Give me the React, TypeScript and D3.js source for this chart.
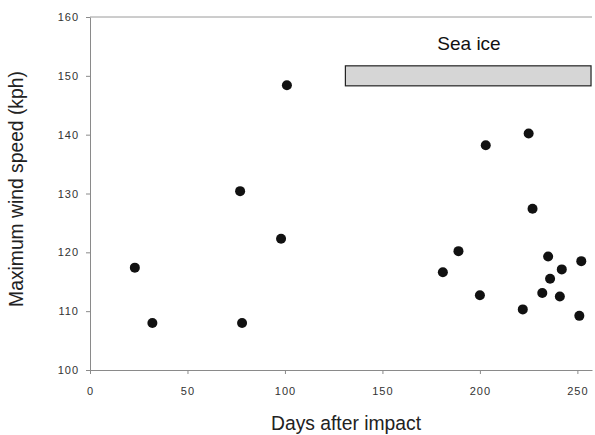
import React from 'react';
import * as d3 from 'd3';

// days after impact / max wind speed (kph)
const days = [23, 32, 77, 101, 78, 98, 203, 225, 227, 181, 189, 200, 222, 232, 235, 236, 242, 241, 252, 251];
const windSpeed = [117.4, 108.0, 130.4, 148.4, 108.0, 122.3, 138.2, 140.2, 127.4, 116.6, 120.2, 112.7, 110.3, 113.1, 119.3, 115.5, 117.1, 112.5, 118.5, 109.2];

const xTicks = [0, 50, 100, 150, 200, 250];
const yTicks = [100, 110, 120, 130, 140, 150, 160];

// sea ice period: [start day, end day], drawn between these wind speeds
const seaIceDays = [131, 257];
const seaIceBand = [148.3, 151.7];
const seaIceLabel = 'Sea ice';

const width = 595;
const height = 435;
const margin = { top: 17, right: 3, bottom: 65, left: 90 };
const font = '"Liberation Sans", Arial, Helvetica, sans-serif';

function App() {
  const ref = React.useRef<SVGSVGElement>(null);

  React.useEffect(() => {
    const svg = d3.select(ref.current);
    svg.selectAll('*').remove();

    const x = d3
      .scaleLinear()
      .domain([0, 257.5])
      .range([margin.left, width - margin.right]);

    const y = d3
      .scaleLinear()
      .domain([100, 160])
      .range([height - margin.bottom, margin.top]);

    // top frame line
    svg
      .append('line')
      .attr('x1', x(0))
      .attr('x2', x(257.5))
      .attr('y1', y(160))
      .attr('y2', y(160))
      .attr('stroke', '#9a9a9a')
      .attr('stroke-width', 1);

    const xAxis = svg
      .append('g')
      .attr('transform', `translate(0,${y(100)})`)
      .call(d3.axisBottom(x).tickValues(xTicks).tickSize(4).tickSizeOuter(0).tickPadding(13));
    xAxis.select('.domain').attr('stroke', '#8a8a8a');
    xAxis.selectAll('.tick line').attr('stroke', '#8a8a8a');
    xAxis
      .selectAll('.tick text')
      .attr('font-family', font)
      .attr('font-size', 11)
      .attr('letter-spacing', 1)
      .attr('fill', '#333');

    const yAxis = svg
      .append('g')
      .attr('transform', `translate(${x(0)},0)`)
      .call(d3.axisLeft(y).tickValues(yTicks).tickSize(4).tickSizeOuter(0).tickPadding(7));
    yAxis.select('.domain').attr('stroke', '#8a8a8a');
    yAxis.selectAll('.tick line').attr('stroke', '#8a8a8a');
    yAxis
      .selectAll('.tick text')
      .attr('font-family', font)
      .attr('font-size', 11)
      .attr('letter-spacing', 1)
      .attr('fill', '#333');

    // sea ice bar
    svg
      .append('rect')
      .attr('x', x(seaIceDays[0]))
      .attr('y', y(seaIceBand[1]))
      .attr('width', x(seaIceDays[1]) - x(seaIceDays[0]))
      .attr('height', y(seaIceBand[0]) - y(seaIceBand[1]))
      .attr('fill', '#d6d6d6')
      .attr('stroke', '#222')
      .attr('stroke-width', 1.2);

    svg
      .append('text')
      .attr('x', 469)
      .attr('y', 50)
      .attr('text-anchor', 'middle')
      .attr('font-family', font)
      .attr('font-size', 19)
      .attr('fill', '#111')
      .text(seaIceLabel);

    svg
      .append('g')
      .selectAll('circle')
      .data(days)
      .join('circle')
      .attr('cx', (d) => x(d))
      .attr('cy', (_d, i) => y(windSpeed[i]))
      .attr('r', 5)
      .attr('fill', '#111');

    svg
      .append('text')
      .attr('x', 346)
      .attr('y', 430)
      .attr('text-anchor', 'middle')
      .attr('font-family', font)
      .attr('font-size', 19.3)
      .attr('fill', '#222')
      .text('Days after impact');

    svg
      .append('text')
      .attr('transform', 'translate(23,189) rotate(-90)')
      .attr('text-anchor', 'middle')
      .attr('font-family', font)
      .attr('font-size', 19.3)
      .attr('fill', '#222')
      .text('Maximum wind speed (kph)');
  }, []);

  return (
    <svg
      ref={ref}
      width={width}
      height={height}
      style={{ position: 'absolute', left: 0, top: 0, background: '#fff' }}
    />
  );
}

export default App;
